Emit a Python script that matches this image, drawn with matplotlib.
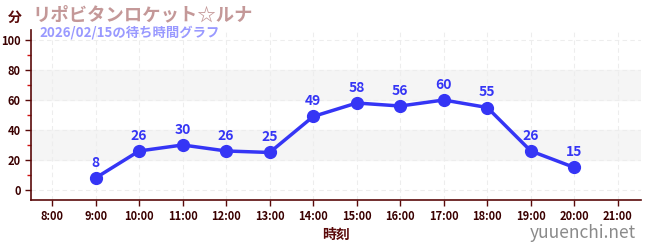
import matplotlib
matplotlib.use("Agg")
import matplotlib.pyplot as plt
from matplotlib.ticker import MultipleLocator

plt.rcParams["font.family"] = ["Noto Sans CJK JP", "DejaVu Sans"]

# --- Data ---
hours = [9, 10, 11, 12, 13, 14, 15, 16, 17, 18, 19, 20]
waits = [8, 26, 30, 26, 25, 49, 58, 56, 60, 55, 26, 15]
tick_hours = list(range(8, 22))
tick_labels = [f"{h}:00" for h in tick_hours]

title = "リポビタンロケット☆ルナ"
subtitle = "2026/02/15の待ち時間グラフ"

dark = "#5a0a0a"
blue = "#3535f5"

fig = plt.figure(figsize=(6.5, 2.5), dpi=100)
ax = fig.add_axes([0.048, 0.2, 0.938, 0.68])

# alternating bands
for lo, hi in [(20, 40), (60, 80)]:
    ax.axhspan(lo, hi, color="#f5f5f5", zorder=0)

ax.plot(hours, waits, color=blue, lw=2.5, marker="o", ms=8.5, zorder=3)
for h, w in zip(hours, waits):
    ax.annotate(str(w), (h, w), xytext=(0, 6), textcoords="offset points",
                ha="center", va="bottom", color=blue, fontsize=10,
                fontweight="bold", zorder=4)

ax.set_xlim(7.52, 21.53)
ax.set_ylim(-6.7, 106.7)
ax.set_xticks(tick_hours)
ax.set_xticklabels(tick_labels)
ax.set_yticks(range(0, 101, 20))
ax.yaxis.set_minor_locator(MultipleLocator(10))
ax.grid(True, which="major", color="#ededed", ls=(0, (4, 3)), lw=0.8, zorder=1)

for side in ["top", "right"]:
    ax.spines[side].set_visible(False)
for side in ["left", "bottom"]:
    ax.spines[side].set_color(dark)
    ax.spines[side].set_linewidth(1.2)

ax.tick_params(axis="both", which="major", colors=dark, labelcolor="#3a0000",
               labelsize=8, length=4, width=1)
ax.tick_params(axis="y", which="minor", colors="#d01010", length=3, width=1)
for lab in ax.get_xticklabels() + ax.get_yticklabels():
    lab.set_fontweight("bold")

ax.set_xlabel("時刻", color=dark, fontsize=10, fontweight="bold", labelpad=3)

fig.text(0.012, 0.93, "分", color=dark, fontsize=10, fontweight="bold",
         va="center", ha="left")
fig.text(0.05, 0.94, title, color="#c49898", fontsize=13.2, fontweight="bold",
         va="center", ha="left")
fig.text(0.061, 0.87, subtitle, color="#9999ff", fontsize=9.6, fontweight="bold",
         va="center", ha="left")
fig.text(0.978, 0.07, "yuuenchi.net", color="#8a8a8a", fontsize=12.5,
         va="center", ha="right")

fig.savefig("out.png", dpi=100)
